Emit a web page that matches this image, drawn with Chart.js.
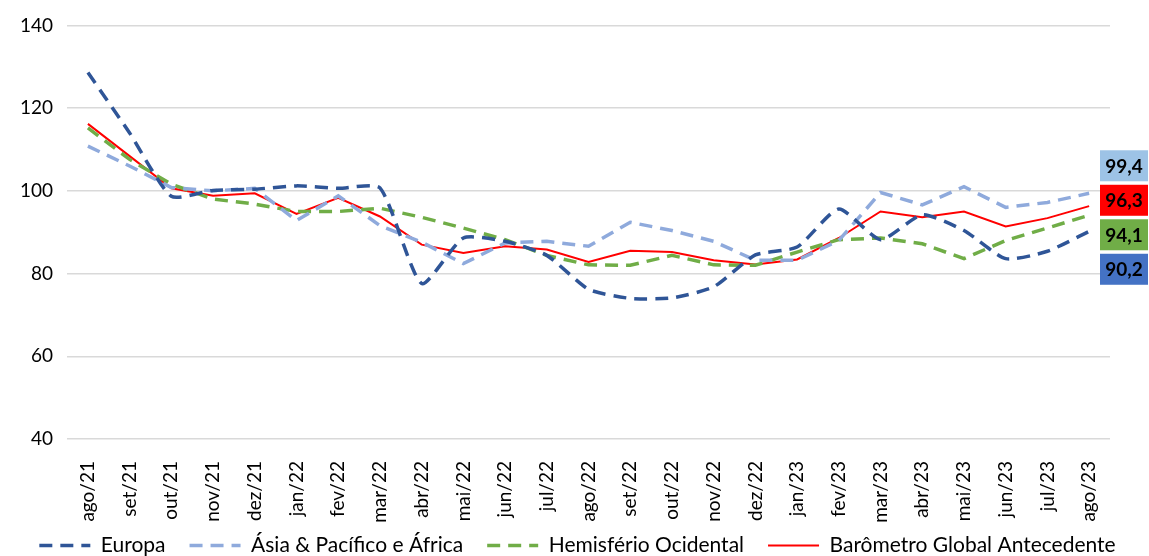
<!doctype html>
<html>
<head>
    <meta charset="utf-8">
    <title>Barômetro Global</title>
    <script src="https://cdn.jsdelivr.net/npm/chart.js"></script>
    <style>
        body { margin: 0; background: #ffffff; }
        canvas { display: block; }
    </style>
</head>
<body>
    <canvas id="grafico" width="1149" height="556"></canvas>

    <script>
        var meses = ['ago/21', 'set/21', 'out/21', 'nov/21', 'dez/21', 'jan/22', 'fev/22', 'mar/22', 'abr/22',
            'mai/22', 'jun/22', 'jul/22', 'ago/22', 'set/22', 'out/22', 'nov/22', 'dez/22', 'jan/23', 'fev/23',
            'mar/23', 'abr/23', 'mai/23', 'jun/23', 'jul/23', 'ago/23'];

        var europa = [128.6, 114.0, 98.7, 100.1, 100.4, 101.2, 100.6, 100.7, 77.6, 88.6, 87.8, 84.4, 76.2,
            74.0, 74.1, 76.8, 84.5, 86.4, 95.6, 88.2, 94.2, 90.4, 83.6, 85.4, 90.2];
        var asia = [110.8, 106.0, 100.8, 100.0, 100.6, 92.8, 98.8, 91.6, 87.6, 82.4, 87.4, 87.8, 86.6,
            92.4, 90.4, 87.8, 83.2, 83.2, 88.0, 99.6, 96.6, 101.0, 96.0, 97.2, 99.4];
        var ocidental = [115.2, 107.6, 101.6, 98.0, 96.8, 95.0, 95.0, 95.8, 93.6, 91.0, 88.2, 84.4, 82.1,
            82.0, 84.4, 82.1, 82.0, 85.2, 88.2, 88.6, 87.2, 83.6, 88.0, 91.0, 94.1];
        var barometro = [116.2, 108.4, 100.6, 98.8, 99.4, 94.4, 98.3, 93.8, 87.0, 85.0, 86.6, 85.8, 82.8,
            85.5, 85.2, 83.2, 82.2, 83.4, 88.6, 95.0, 93.6, 95.0, 91.4, 93.4, 96.3];

        var fonte = 'Lato, "Noto Sans", sans-serif';

        // caixinhas com o último valor de cada série, à direita do gráfico
        var rotulosFinais = {
            id: 'rotulosFinais',
            afterDraw: function (chart) {
                var ctx = chart.ctx;
                var y = chart.scales.y;
                var area = chart.chartArea;
                var itens = chart.data.datasets.map(function (ds) {
                    var v = ds.data[ds.data.length - 1];
                    return { valor: v, cor: ds.corRotulo, py: y.getPixelForValue(v) };
                });
                itens.sort(function (a, b) { return b.valor - a.valor; });
                var media = itens.reduce(function (s, it) { return s + it.py; }, 0) / itens.length + 6;
                var passo = 34.5;
                ctx.save();
                ctx.font = 'bold 19px ' + fonte;
                ctx.textAlign = 'center';
                ctx.textBaseline = 'middle';
                itens.forEach(function (it, i) {
                    var cy = media + (i - (itens.length - 1) / 2) * passo;
                    var x0 = area.right - 10;
                    ctx.fillStyle = it.cor;
                    ctx.fillRect(x0, cy - 15.5, 48, 31);
                    ctx.fillStyle = '#000000';
                    ctx.fillText(it.valor.toFixed(1).replace('.', ','), x0 + 24, cy + 1);
                });
                ctx.restore();
            }
        };

        var contexto = document.getElementById('grafico');
        var grafico = new Chart(contexto, {
            type: 'line',
            data: {
                labels: meses,
                datasets: [{
                    label: 'Europa',
                    data: europa,
                    borderColor: '#2F5597',
                    backgroundColor: '#2F5597',
                    borderWidth: 3.5,
                    borderDash: [13, 8],
                    tension: 0.2,
                    corRotulo: '#4472C4'
                }, {
                    label: 'Ásia & Pacífico e África',
                    data: asia,
                    borderColor: '#8FAADC',
                    backgroundColor: '#8FAADC',
                    borderWidth: 3.5,
                    borderDash: [13, 8],
                    corRotulo: '#9DC3E6'
                }, {
                    label: 'Hemisfério Ocidental',
                    data: ocidental,
                    borderColor: '#70AD47',
                    backgroundColor: '#70AD47',
                    borderWidth: 3.5,
                    borderDash: [13, 8],
                    corRotulo: '#70AD47'
                }, {
                    label: 'Barômetro Global Antecedente',
                    data: barometro,
                    borderColor: '#FF0000',
                    backgroundColor: '#FF0000',
                    borderWidth: 2,
                    corRotulo: '#FF0000'
                }]
            },
            options: {
                responsive: false,
                animation: false,
                elements: { point: { radius: 0 } },
                layout: { padding: { top: 10, right: 0, left: 6, bottom: -10 } },
                plugins: {
                    tooltip: { enabled: false },
                    legend: {
                        position: 'bottom',
                        labels: {
                            usePointStyle: true,
                            pointStyleWidth: 51,
                            boxHeight: 20,
                            padding: 24,
                            color: '#000000',
                            font: { family: fonte, size: 21 },
                            generateLabels: function (chart) {
                                return chart.data.datasets.map(function (ds, i) {
                                    return {
                                        text: ds.label,
                                        fillStyle: ds.borderColor,
                                        strokeStyle: ds.borderColor,
                                        lineWidth: ds.borderWidth,
                                        lineDash: ds.borderDash || [],
                                        lineCap: 'butt',
                                        pointStyle: 'line',
                                        fontColor: '#000000',
                                        hidden: false,
                                        datasetIndex: i
                                    };
                                });
                            }
                        }
                    }
                },
                scales: {
                    x: {
                        offset: true,
                        grid: { display: false },
                        border: { display: false },
                        ticks: {
                            autoSkip: false,
                            minRotation: 90,
                            maxRotation: 90,
                            padding: 14,
                            color: '#000000',
                            font: { family: fonte, size: 19 }
                        },
                        afterFit: function (escala) {
                            escala.height = 72;
                            // deixa os rótulos passarem da caixa do eixo sem serem cortados
                            escala._computeLabelArea = function () { return undefined; };
                        }
                    },
                    y: {
                        min: 40,
                        max: 140,
                        border: { display: false },
                        grid: { color: '#D9D9D9', lineWidth: 1.5, drawTicks: false },
                        ticks: {
                            stepSize: 20,
                            padding: 14,
                            color: '#000000',
                            font: { family: fonte, size: 19 }
                        }
                    },
                    // eixo vazio à direita só para reservar espaço para as caixinhas
                    margem: {
                        type: 'linear',
                        position: 'right',
                        grid: { display: false },
                        border: { display: false },
                        ticks: { display: false },
                        afterFit: function (escala) { escala.width = 39; }
                    }
                }
            },
            plugins: [rotulosFinais]
        });
    </script>
</body>
</html>
